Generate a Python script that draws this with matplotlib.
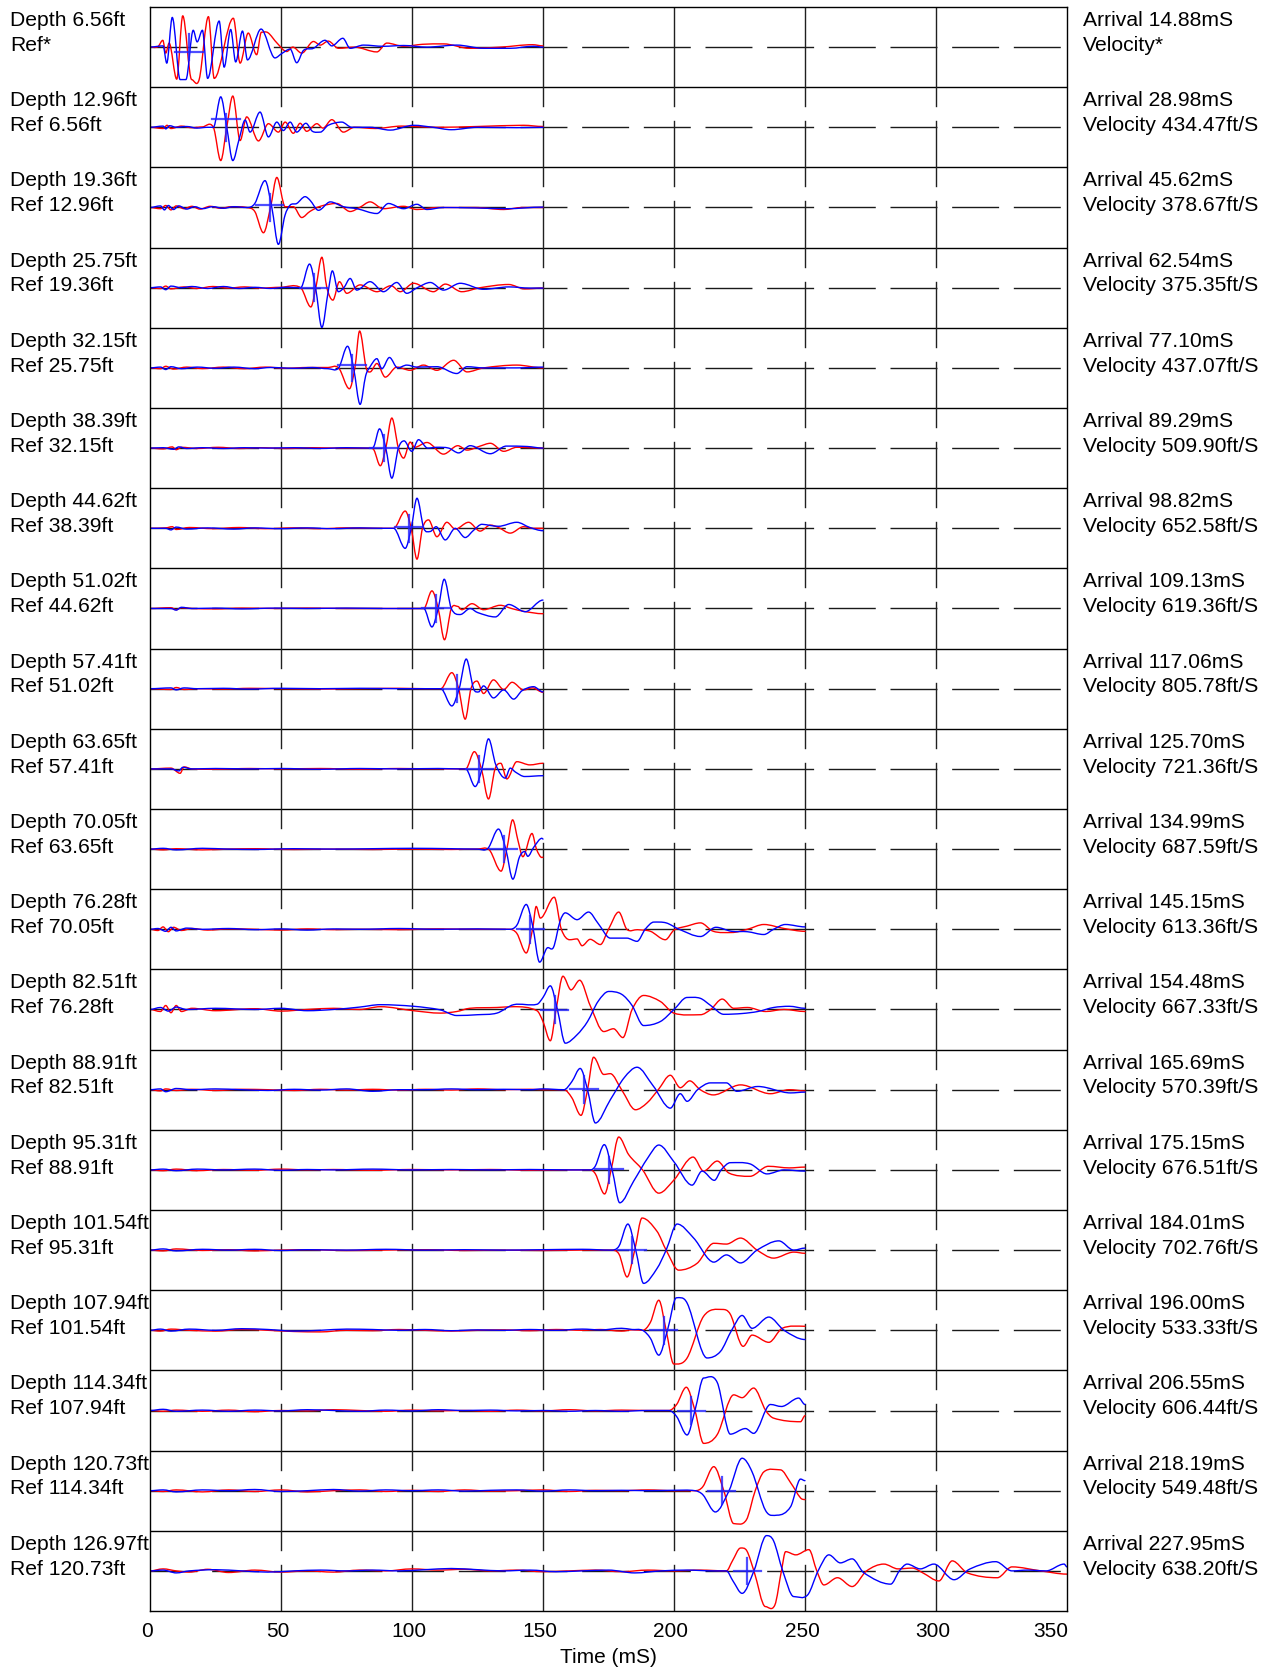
import matplotlib
matplotlib.use("Agg")
import matplotlib.pyplot as plt
import matplotlib.transforms as mtransforms
from matplotlib.path import Path
from matplotlib.patches import PathPatch

plt.rcParams['font.family'] = ['Liberation Sans', 'DejaVu Sans']

# ---------------- data ----------------
depths = ["6.56", "12.96", "19.36", "25.75", "32.15", "38.39", "44.62", "51.02", "57.41", "63.65",
          "70.05", "76.28", "82.51", "88.91", "95.31", "101.54", "107.94", "114.34", "120.73", "126.97"]
arrivals = [14.88, 28.98, 45.62, 62.54, 77.10, 89.29, 98.82, 109.13, 117.06, 125.70,
            134.99, 145.15, 154.48, 165.69, 175.15, 184.01, 196.00, 206.55, 218.19, 227.95]
velocities = [None, "434.47", "378.67", "375.35", "437.07", "509.90", "652.58", "619.36", "805.78", "721.36",
              "687.59", "613.36", "667.33", "570.39", "676.51", "702.76", "533.33", "606.44", "549.48", "638.20"]
trace_end = [150] * 11 + [250] * 8 + [350]
marker_level = [-0.13, 0.2, 0.07, 0.0, 0.06, 0.0, 0.02, 0.0, 0.0, 0.0,
                0.0, 0.0, -0.02, 0.01, 0.01, 0.0, 0.0, 0.0, 0.0, 0.0]
time_ticks = [0, 50, 100, 150, 200, 250, 300, 350]

# (time ms, amplitude as fraction of half a row)
blue_01 = [(0,0),(3,0.02),(5,0.03),(6.4,-0.4),(8.5,0.74),(11.5,-0.81),(13.7,-0.81),(16.5,0.42),(18.0,0.13),(20.0,0.42),(22.0,-0.78),(26.4,0.65),(28.3,-0.5),(30.8,0.44),(32.7,-0.37),(35.3,0.4),(37.2,-0.32),(42.4,0.45),(47.7,-0.27),(50.3,-0.16),(53.5,-0.05),(56.0,-0.39),(58.6,-0.08),(62.4,-0.03),(66.8,0.17),(69.4,0.03),(73.6,0.22),(76.4,-0.03),(81.5,0.05),(89,0.02),(96.8,0.04),(105.7,0.0),(117.1,0.05),(127.3,-0.03),(137.5,-0.03),(146.4,0.02),(150,0.0)]
red_01 = [(0,0),(3,0.01),(4.9,0.17),(6.0,-0.15),(7.3,0.1),(10.2,-0.8),(12.5,0.78),(15.9,-0.81),(18.8,-0.8),(22.3,0.76),(24.5,-0.78),(31.8,0.72),(34.4,-0.4),(37.5,0.35),(40.7,-0.19),(42.5,0.37),(45,0.36),(48.5,0.1),(52.2,-0.11),(54.5,0.0),(57.9,-0.15),(62.4,0.14),(65,0.05),(68,0.15),(72,-0.03),(78,0.0),(86.6,-0.12),(90.4,0.1),(96.8,0.02),(104,0.07),(112,0.08),(122,-0.03),(134,0.0),(146,0.06),(150,0.03)]

blue_02 = [(0,0),(5,0.03),(6,-0.04),(7.5,0.04),(10,0.0),(14,0.02),(18,-0.02),(22,0.0),(24.2,0.0),(27.0,0.76),(29.3,0.0),(31.6,-0.83),(34,-0.3),(36.3,0.18),(38.2,-0.12),(42.0,0.38),(45.2,-0.24),(48.4,0.13),(50.9,-0.08),(53.5,0.13),(56,-0.12),(59.5,0.1),(62,-0.1),(65,-0.12),(68,0.05),(73.2,0.13),(77,0.0),(84,0.0),(91.7,-0.07),(100.6,0.05),(108,0.0),(115,-0.06),(125,0.0),(140,-0.01),(150,0.0)]
red_02 = [(0,0),(5,-0.03),(6.5,0.05),(8,-0.03),(12,0.03),(16,-0.01),(20,0.01),(24.2,0.0),(27.0,-0.83),(29.3,0.0),(31.6,0.78),(34.4,-0.33),(36.9,0.26),(41.4,-0.34),(45.2,0.09),(49,-0.12),(51.6,0.13),(54.7,-0.15),(57.3,0.1),(59.8,-0.1),(63.7,0.09),(66,-0.02),(69.4,0.19),(73.8,-0.12),(78,0.0),(86,-0.03),(96,0.03),(110,0.0),(125,0.02),(142.6,0.05),(150,0.02)]

blue_03 = [(0,0),(4,0.04),(5.5,-0.06),(7,0.05),(9,-0.05),(11,0.04),(14,-0.04),(17,0.02),(20,-0.03),(24,0.02),(28,-0.02),(32,0.02),(36.9,0.0),(40,0.1),(43.9,0.67),(46.5,0.0),(49.0,-0.92),(51.5,-0.2),(53.5,0.06),(56,0.1),(59.2,0.27),(61.1,0.18),(64.3,-0.07),(68.8,0.14),(73.8,0.02),(79,-0.03),(86.6,-0.15),(91,0.1),(96.8,-0.03),(101.9,0.08),(105.7,-0.05),(112,0.0),(124,-0.01),(136,-0.03),(150,0.01)]
red_03 = [(0,0),(4,-0.03),(6,0.05),(8,-0.06),(10,0.04),(13,-0.03),(16,0.03),(19,-0.04),(23,0.03),(27,-0.02),(31,0.02),(36.9,0.0),(40,-0.1),(43.3,-0.63),(46,0.0),(48.4,0.75),(51.6,0.02),(54.7,0.02),(57.9,-0.25),(61,-0.1),(65,0.03),(71.3,0.1),(76.4,-0.1),(80,0.0),(84,0.14),(89,-0.03),(96.8,0.03),(101.9,-0.05),(110,0.0),(124,0.0),(135,-0.05),(142,0.0),(150,0.0)]

blue_04 = [(0,0),(4,0.02),(6,-0.05),(8,0.04),(12,0.0),(16,0.03),(22,-0.02),(28,0.03),(34,-0.02),(40,0.01),(46,-0.02),(52,0.01),(57.5,0.0),(60.9,0.59),(63.2,0.0),(65.6,-0.99),(68,-0.1),(69.6,0.42),(71.9,-0.1),(74,0.0),(76.4,0.23),(78.9,-0.06),(84,0.15),(89.1,-0.1),(94.2,0.13),(98,-0.14),(102,0.0),(107,0.13),(112,-0.06),(118.4,0.11),(127.3,-0.04),(137,0.02),(145,-0.01),(150,-0.01)]
red_04 = [(0,0),(4,-0.02),(6,0.04),(8,-0.03),(13,0.02),(18,-0.02),(24,0.03),(30,-0.01),(36,0.02),(42,-0.01),(50,0.01),(57.5,0.0),(61.4,-0.48),(63.3,0.0),(65.6,0.76),(67.5,0.0),(69.8,-0.31),(72.3,0.15),(75.1,-0.14),(80.2,0.07),(86.6,-0.1),(92,0.05),(95.5,-0.1),(100.6,0.11),(108.2,-0.1),(112.7,0.09),(119,-0.1),(126,0.0),(136.9,0.08),(143,-0.03),(150,-0.01)]

blue_05 = [(0,0),(4,0.02),(6,-0.04),(8,0.03),(12,-0.02),(18,0.02),(25,-0.01),(32,0.02),(40,-0.02),(46,0.01),(55,-0.01),(62,0.01),(68,-0.02),(72,0.0),(75.4,0.54),(77.7,0.0),(80.2,-0.91),(82.3,-0.2),(84,0.03),(86.6,0.23),(88.5,-0.02),(91.4,0.26),(94.5,0.0),(98,0.07),(101.9,0.02),(109.5,0.03),(117.1,-0.14),(121,0.03),(127.3,0.0),(140,0.0),(150,0.02)]
red_05 = [(0,0),(4,-0.02),(6,0.04),(9,-0.03),(14,0.02),(20,-0.02),(28,0.02),(36,-0.02),(44,0.02),(52,-0.01),(60,0.01),(68,0.01),(72,0.0),(76.1,-0.52),(78.2,0.0),(80.0,0.92),(82.5,0.0),(84,-0.1),(86.6,0.11),(89.8,-0.23),(94.2,0.02),(99.3,-0.06),(104.4,0.07),(109.5,-0.06),(115.9,0.19),(121,-0.1),(127.3,0.0),(140,0.07),(150,0.0)]

blue_06 = [(0,0),(5,0.01),(9,-0.03),(11,0.03),(14,-0.01),(20,0.01),(28,-0.01),(36,0.01),(45,0.0),(55,0.01),(65,-0.01),(75,0.01),(84,0.0),(85.5,0.05),(87.6,0.48),(90,0.0),(92.3,-0.75),(94.8,0.0),(97,0.18),(99.9,-0.08),(102.5,0.21),(106,0.0),(109.5,0.02),(114,0.0),(117.8,-0.12),(122.2,0.06),(129.9,-0.14),(136,0.05),(144,0.04),(150,0.0)]
red_06 = [(0,0),(5,-0.02),(8.5,0.03),(10,-0.04),(12,0.02),(18,-0.01),(26,0.02),(34,-0.01),(42,0.01),(52,-0.01),(62,0.01),(72,0.0),(84,0.0),(85.5,-0.05),(87.9,-0.44),(90,0.0),(92.3,0.75),(94.8,0.0),(96.8,-0.25),(99.3,0.15),(101,0.02),(105.7,0.14),(112,-0.15),(117.5,0.06),(121,-0.05),(126,0.05),(129.9,0.12),(135,-0.08),(140,0.02),(150,0.0)]

blue_07 = [(0,0),(6,0.0),(8,-0.04),(10,0.03),(14,-0.02),(22,0.01),(32,-0.02),(40,0.01),(50,-0.01),(60,0.01),(70,-0.01),(80,0.01),(88,0.0),(93,0.0),(97.4,-0.5),(99.7,0.0),(101.9,0.75),(104.5,0.0),(106.9,-0.08),(109.2,0.04),(112.7,-0.29),(116.5,0.0),(120.3,-0.23),(123.5,-0.05),(126.7,0.1),(129.9,0.07),(133,0.05),(140,0.15),(145,0.02),(150,-0.06)]
red_07 = [(0,0),(6,0.01),(8.5,0.04),(10,-0.03),(15,0.02),(24,-0.01),(34,0.02),(44,-0.01),(55,0.01),(65,-0.01),(75,0.01),(85,0.0),(93,0.0),(97.4,0.43),(99.7,0.0),(101.9,-0.77),(104,0.0),(106.3,0.21),(109.5,-0.21),(113.3,0.15),(116.5,-0.02),(121.6,0.15),(126,-0.07),(129.9,0.08),(133,0.02),(137.5,-0.12),(142.6,0.04),(146,0.0),(150,0.0)]

blue_08 = [(0,0),(8,0.0),(10,-0.04),(12,0.03),(16,0.0),(25,0.01),(35,-0.01),(48,0.01),(60,0.0),(75,0.01),(90,0.0),(100,0.0),(104.5,0.0),(107.6,-0.46),(110,0.0),(112.3,0.73),(115,0.0),(118.4,-0.15),(122.2,0.0),(125,-0.1),(131.8,-0.21),(136.9,0.1),(143.2,-0.08),(150,0.21)]
red_08 = [(0,0),(8,0.02),(10,-0.03),(12,0.02),(16,0.0),(25,-0.01),(35,0.01),(48,0.0),(60,0.01),(75,0.0),(90,0.0),(104.5,0.0),(107.6,0.44),(110,0.0),(112.4,-0.78),(115,0.0),(117.5,0.05),(119,-0.03),(122.9,0.12),(127.3,-0.03),(133.7,0.08),(138,0.0),(142.6,-0.07),(150,-0.13)]

blue_09 = [(0,0),(8,0.02),(10,-0.03),(13,0.02),(18,0.0),(28,0.01),(38,-0.01),(50,0.01),(65,0.0),(80,0.01),(95,0.0),(105,0.0),(111,0.0),(115.2,-0.43),(118,0.0),(120.7,0.74),(123.5,0.0),(125.4,-0.08),(127.3,0.07),(131.1,-0.23),(135,-0.03),(138.8,-0.26),(142,-0.05),(146.4,0.05),(150,-0.08)]
red_09 = [(0,0),(8,-0.02),(10,0.03),(13,-0.02),(18,0.0),(28,-0.01),(38,0.01),(50,0.0),(65,-0.01),(80,0.0),(95,0.01),(105,0.0),(111,0.0),(115.2,0.4),(117.8,0.0),(120.3,-0.76),(122.5,0.0),(124.8,0.19),(127.3,-0.12),(131.1,0.22),(135,-0.02),(138.2,0.16),(142.6,-0.03),(146,0.02),(150,-0.09)]

blue_10 = [(0,0),(8,0.0),(11,-0.05),(12.5,0.04),(16,0.0),(25,0.01),(38,0.0),(50,0.01),(65,-0.01),(80,0.01),(95,0.0),(110,0.01),(118,0.0),(120.5,0.0),(124.1,-0.44),(126.7,0.0),(129.2,0.75),(132,0.1),(135.6,-0.23),(137.5,0.02),(139.5,-0.08),(143,-0.19),(150,-0.17)]
red_10 = [(0,0),(8,0.02),(11.5,-0.11),(13,0.05),(16,0.0),(25,-0.01),(38,0.01),(50,0.0),(65,0.01),(80,-0.01),(95,0.01),(110,0.0),(118,0.0),(120.5,0.0),(123.8,0.43),(126.5,0.0),(129.2,-0.75),(131.7,0.0),(133.9,0.14),(136.2,-0.25),(140,0.18),(145,0.1),(150,0.14)]

blue_11 = [(0,0),(5,0.02),(10,-0.02),(20,0.02),(30,0.0),(40,-0.01),(55,0.01),(70,0.0),(85,0.01),(100,0.02),(115,0.01),(125,0.0),(129,0.02),(133,0.5),(135.8,0.0),(138.5,-0.75),(141,-0.2),(143,-0.06),(144.2,-0.18),(146.5,0.05),(149.6,0.27),(150,0.25)]
red_11 = [(0,0),(5,-0.02),(10,0.01),(20,-0.02),(30,0.0),(40,0.01),(55,-0.01),(70,0.0),(85,-0.01),(100,0.0),(115,-0.01),(125,0.0),(129.5,-0.02),(134,-0.55),(136.2,0.0),(138.4,0.73),(140.5,0.2),(142.3,-0.19),(145.8,0.39),(147.5,0.0),(149.6,-0.21),(150,-0.2)]

blue_12 = [(0,0),(3,0.02),(6,-0.05),(8,0.05),(10,-0.04),(14,0.03),(20,0.0),(30,0.02),(40,-0.01),(50,0.01),(60,-0.02),(70,0.01),(80,0.0),(95,0.02),(110,0.0),(125,0.01),(137,0.0),(140,0.1),(143.6,0.62),(146,0.1),(148.7,-0.82),(151.5,-0.47),(154,-0.45),(156.5,0.2),(158.5,0.41),(163,0.24),(167.4,0.43),(171,0.15),(175.7,-0.22),(182,-0.22),(185.9,-0.3),(189,0.0),(192.3,0.18),(197,0.16),(202,0.0),(210.1,-0.18),(216,0.05),(222,-0.05),(228,-0.06),(234.3,-0.13),(238,0.0),(242.5,0.12),(250,0.06)]
red_12 = [(0,0),(3,-0.03),(5,0.06),(7,-0.06),(9,0.05),(12,-0.03),(16,0.02),(22,-0.02),(30,0.01),(40,0.0),(50,-0.02),(60,0.01),(70,-0.01),(80,0.0),(95,-0.01),(110,0.01),(125,0.0),(137,0.0),(140,-0.1),(143.6,-0.59),(146,0.0),(147.4,0.57),(149,0.28),(154.3,0.8),(157,0.0),(160.2,-0.26),(163,-0.24),(164.9,-0.41),(168,-0.25),(171.9,-0.38),(175,0.0),(178.9,0.43),(182,0.0),(186,-0.01),(191,-0.05),(196.7,-0.26),(200,-0.02),(205,0.08),(210.1,0.16),(215,-0.05),(222,-0.08),(228,0.0),(234.3,0.12),(242,0.02),(250,-0.05)]

blue_13 = [(0,0),(4,0.05),(7,-0.04),(10,0.06),(14,0.0),(25,0.03),(40,0.0),(50,0.03),(60,-0.03),(70,0.0),(80,0.06),(87.9,0.12),(100.6,0.08),(110.8,-0.01),(117.1,-0.15),(125,-0.13),(132.4,-0.09),(138.8,0.12),(147.7,0.13),(150,0.3),(152.8,0.59),(155.5,0.0),(158.5,-0.84),(163,-0.63),(167,-0.3),(171,0.2),(175.1,0.45),(180,0.38),(184,0.1),(188.4,-0.4),(194.8,-0.3),(200,0.0),(205,0.3),(210,0.28),(214,0.1),(219,-0.12),(226,-0.1),(232,-0.05),(238,0.05),(244,0.08),(250,0.03)]
red_13 = [(0,0),(4,-0.05),(6,0.1),(8,-0.08),(10,0.1),(12,-0.05),(16,0.03),(25,-0.03),(40,0.02),(50,-0.04),(60,0.0),(70,0.03),(80,0.0),(87.9,0.07),(100.6,-0.03),(110.8,-0.09),(117.1,-0.05),(122,0.03),(132.4,0.05),(138.8,0.07),(147.7,-0.03),(150,-0.3),(152.8,-0.78),(155,0.0),(157.6,0.83),(160.7,0.49),(164,0.73),(168,0.1),(173.2,-0.55),(176.9,-0.48),(180.5,-0.7),(184,0.0),(188.4,0.35),(194.8,0.2),(199.9,-0.09),(210.1,-0.13),(214,0.0),(218.4,0.26),(222.8,0.03),(228,0.05),(235,-0.05),(242,0.0),(250,-0.05)]

blue_14 = [(0,0),(4,0.02),(6,-0.05),(10,0.03),(16,0.0),(25,0.02),(35,0.0),(45,-0.02),(55,0.01),(65,-0.01),(75,0.02),(85,-0.04),(95,0.0),(105,0.0),(115,0.02),(125,0.0),(135,0.01),(145,0.0),(150,0.02),(158,0.0),(161,0.2),(164.2,0.53),(167,0.0),(170,-0.83),(175.7,-0.25),(181,0.3),(185.9,0.56),(192,0.1),(198.6,-0.46),(202.4,-0.1),(205,-0.29),(209,0.0),(213.9,0.17),(220,0.17),(224,-0.04),(232,0.08),(244.5,-0.08),(250,-0.06)]
red_14 = [(0,0),(4,-0.03),(6,0.02),(10,-0.02),(16,0.01),(25,-0.02),(35,0.01),(45,0.0),(55,-0.02),(65,0.01),(75,-0.01),(85,0.01),(95,-0.01),(105,0.01),(115,-0.01),(125,0.02),(135,0.0),(145,0.01),(150,0.0),(158,0.0),(161,-0.2),(164.5,-0.64),(167,0.0),(169.3,0.81),(173.2,0.38),(175.7,0.4),(180,0.0),(185.3,-0.5),(189.7,-0.33),(194,0.0),(198.6,0.36),(202.4,0.05),(206,0.22),(210,0.0),(215,-0.13),(225.4,0.12),(236.8,-0.1),(244,0.0),(250,-0.03)]

blue_15 = [(0,0),(5,0.02),(10,-0.02),(18,0.02),(28,0.0),(40,0.02),(50,-0.01),(60,0.01),(70,0.0),(85,0.02),(100,0.0),(115,0.01),(130,0.0),(145,0.01),(160,0.0),(168,0.0),(170,0.1),(173.4,0.63),(176.4,0.0),(179.3,-0.82),(184.6,-0.28),(190,0.3),(194.2,0.62),(200,0.2),(206.9,-0.38),(210.7,-0.03),(215.4,-0.26),(218,0.0),(221.5,0.18),(229,0.15),(235.5,-0.1),(242,0.0),(250,-0.03)]
red_15 = [(0,0),(5,-0.02),(10,0.02),(18,-0.02),(28,0.01),(40,-0.01),(50,0.02),(60,0.0),(70,0.01),(85,-0.01),(100,0.01),(115,0.0),(130,0.01),(145,-0.01),(160,0.0),(168,0.0),(170,-0.1),(173.5,-0.6),(176,0.0),(178.9,0.82),(182.7,0.38),(188,0.0),(194.2,-0.58),(200,-0.25),(207.3,0.32),(211.3,-0.03),(216.5,0.22),(221,-0.08),(229,-0.16),(236,0.09),(244,0.05),(250,0.07)]

blue_16 = [(0,0),(5,0.03),(10,-0.02),(20,0.02),(30,0.0),(40,0.02),(50,-0.01),(60,0.01),(75,0.0),(90,0.02),(105,0.0),(120,0.01),(135,0.0),(150,0.01),(165,0.02),(176,0.0),(179,0.1),(182.4,0.65),(185.4,0.0),(188.4,-0.83),(193.5,-0.46),(197,0.0),(201.2,0.65),(207.5,0.3),(215.2,-0.3),(220,-0.12),(225.4,-0.32),(231.7,0.0),(240,0.23),(245.7,0.0),(250,0.05)]
red_16 = [(0,0),(5,-0.02),(10,0.03),(20,-0.01),(30,0.01),(40,-0.02),(50,0.0),(60,0.01),(75,-0.01),(90,0.0),(105,0.01),(120,-0.01),(135,0.0),(150,-0.01),(165,0.0),(176,0.0),(179,-0.1),(182.1,-0.67),(185,0.0),(187.8,0.8),(193.5,0.47),(197,0.0),(201.8,-0.5),(208.8,-0.33),(215.2,0.17),(220,0.15),(225.4,0.3),(231.7,0.0),(238,-0.2),(245.7,-0.05),(250,-0.08)]

blue_17 = [(0,0),(4,0.03),(8,-0.02),(15,0.03),(25,0.0),(35,0.04),(45,0.02),(55,-0.02),(65,0.0),(75,0.03),(85,0.02),(95,0.0),(105,0.02),(115,-0.01),(125,0.01),(135,0.0),(145,0.02),(155,0.0),(165,0.03),(172,0.01),(180,0.05),(184,0.02),(188,0.0),(191,-0.2),(194.2,-0.62),(197.5,0.0),(200.9,0.81),(205,0.68),(212.6,-0.69),(217.7,-0.53),(222,0.0),(226,0.37),(229.8,0.05),(236.2,0.33),(242,0.0),(250,-0.23)]
red_17 = [(0,0),(4,-0.02),(8,0.03),(15,0.0),(25,-0.02),(35,0.02),(45,0.0),(55,-0.03),(65,-0.04),(75,0.0),(85,-0.01),(95,0.02),(105,0.0),(115,-0.02),(125,0.0),(135,0.01),(145,-0.01),(155,0.02),(165,0.0),(172,0.02),(180,-0.02),(184,0.01),(188,0.0),(191,0.2),(194.2,0.75),(197,0.0),(199.9,-0.84),(205,-0.69),(211.3,0.35),(218.4,0.52),(221.5,0.4),(226.4,-0.4),(229.8,-0.12),(236.2,-0.3),(241.3,0.05),(250,0.1)]

blue_18 = [(0,0),(5,0.03),(10,-0.02),(20,0.01),(30,-0.02),(40,0.01),(50,-0.01),(60,0.02),(70,0.0),(80,-0.02),(90,0.01),(100,-0.01),(110,0.02),(120,0.0),(130,0.01),(140,-0.01),(150,0.0),(160,-0.02),(170,0.0),(180,-0.02),(190,0.0),(198,0.0),(201,-0.15),(205,-0.61),(208,0.0),(211.3,0.81),(216.5,0.7),(221.5,-0.59),(227.3,-0.45),(230.4,-0.57),(236.8,0.15),(241,0.1),(247.6,0.31),(250,0.15)]
red_18 = [(0,0),(5,-0.02),(10,0.01),(20,-0.02),(30,0.01),(40,-0.03),(50,0.0),(60,-0.01),(70,0.02),(80,0.0),(90,-0.02),(100,0.01),(110,-0.01),(120,0.0),(130,-0.02),(140,0.01),(150,-0.01),(160,0.02),(170,-0.01),(180,0.01),(190,0.0),(198,0.0),(201,0.15),(204.7,0.58),(208,0.0),(211.3,-0.82),(216.5,-0.6),(222.8,0.39),(226,0.32),(230.4,0.56),(235,0.0),(238,-0.19),(248.3,-0.28),(250,-0.13)]

blue_19 = [(0,0),(5,0.02),(10,-0.03),(20,0.02),(30,0.0),(40,0.03),(50,-0.02),(60,0.0),(70,0.03),(80,-0.01),(90,0.02),(100,0.0),(110,0.02),(120,-0.01),(130,0.01),(140,0.02),(150,-0.01),(160,0.02),(170,0.0),(180,0.01),(190,0.0),(200,0.01),(208,0.0),(211,-0.1),(215.8,-0.53),(221,0.0),(226,0.81),(229.8,0.47),(235,-0.5),(239.4,-0.61),(244.5,-0.4),(248.3,0.29),(250,0.25)]
red_19 = [(0,0),(5,-0.02),(10,0.02),(20,-0.03),(30,0.02),(40,-0.02),(50,0.02),(60,-0.03),(70,0.0),(80,0.02),(90,-0.02),(100,0.01),(110,-0.02),(120,0.02),(130,-0.01),(140,0.0),(150,0.02),(160,-0.02),(170,0.01),(180,0.0),(190,0.02),(200,0.0),(208,0.0),(211,0.1),(215.2,0.6),(219,0.0),(222.8,-0.82),(227.6,-0.73),(231,0.0),(234.3,0.47),(240.6,0.52),(244.5,0.2),(248.3,-0.18),(250,-0.22)]

blue_20 = [(0,0),(5,0.02),(10,-0.05),(15,0.0),(25,0.03),(35,0.0),(45,-0.03),(55,0.0),(65,0.02),(75,0.0),(85,0.02),(95,0.0),(105,0.03),(115,0.06),(125,0.03),(135,0.0),(145,0.02),(155,-0.02),(165,0.0),(175,0.02),(185,-0.05),(195,0.0),(205,0.02),(215,0.0),(220,0.0),(222.5,-0.25),(226,-0.56),(230.5,0.0),(235.3,0.88),(238,0.75),(241.5,0.0),(245.7,-0.64),(251,-0.6),(255,0.0),(259.1,0.4),(263.5,0.2),(268,0.3),(272.5,-0.05),(282.7,-0.33),(286,0.0),(289,0.17),(294,0.05),(299.2,0.17),(306.9,-0.22),(313,0.05),(322.8,0.23),(329,0.0),(335,0.02),(342,0.0),(348.9,0.17),(350,0.1)]
red_20 = [(0,0),(5,0.05),(10,0.0),(15,-0.03),(22,0.04),(30,-0.04),(40,0.02),(50,-0.03),(60,0.0),(70,-0.03),(80,0.02),(90,0.0),(100,0.05),(110,0.02),(120,0.04),(130,0.0),(140,0.02),(150,-0.02),(160,0.0),(170,0.02),(180,-0.02),(190,0.02),(200,0.0),(210,0.02),(220,0.0),(222.3,0.25),(225.4,0.57),(227.8,0.5),(230.5,0.0),(234.9,-0.89),(238.5,-0.85),(241,0.0),(242.6,0.48),(246.5,0.4),(251.5,0.53),(254.5,0.0),(257.2,-0.35),(262.4,-0.17),(268,-0.39),(273.5,0.0),(280.1,0.17),(285.5,0.05),(291,0.07),(295,-0.05),(301.1,-0.25),(306.2,0.25),(312,-0.05),(323.4,-0.17),(329,0.1),(340,0.0),(350,-0.08)]

blue_traces = [blue_01, blue_02, blue_03, blue_04, blue_05, blue_06, blue_07, blue_08, blue_09, blue_10,
               blue_11, blue_12, blue_13, blue_14, blue_15, blue_16, blue_17, blue_18, blue_19, blue_20]
red_traces = [red_01, red_02, red_03, red_04, red_05, red_06, red_07, red_08, red_09, red_10,
              red_11, red_12, red_13, red_14, red_15, red_16, red_17, red_18, red_19, red_20]


def smooth_trace(ax, ts, ys, color, z):
    """Draw the read points as a smooth curve (cubic Bezier segments, flat at peaks)."""
    m = len(ts)
    slopes = []
    for k in range(m):
        if k == 0 or k == m - 1:
            slopes.append(0.0)
            continue
        d0 = ys[k] - ys[k - 1]
        d1 = ys[k + 1] - ys[k]
        if d0 * d1 <= 0:
            slopes.append(0.0)
        else:
            slopes.append((ys[k + 1] - ys[k - 1]) / (ts[k + 1] - ts[k - 1]))
    verts = [(ts[0], ys[0])]
    codes = [Path.MOVETO]
    for k in range(m - 1):
        dt = ts[k + 1] - ts[k]
        verts += [(ts[k] + dt / 3, ys[k] + slopes[k] * dt / 3),
                  (ts[k + 1] - dt / 3, ys[k + 1] - slopes[k + 1] * dt / 3),
                  (ts[k + 1], ys[k + 1])]
        codes += [Path.CURVE4] * 3
    ax.add_patch(PathPatch(Path(verts, codes), fill=False, edgecolor=color, lw=1.0, zorder=z,
                           joinstyle='round', capstyle='round'))


# ---------------- figure ----------------
W, H = 1273, 1669
fig = plt.figure(figsize=(W / 100, H / 100), dpi=100)
ax_left, ax_right, ax_top, ax_bottom = 150, 1067, 7, 1611
ax = fig.add_axes([ax_left / W, (H - ax_bottom) / H, (ax_right - ax_left) / W, (ax_bottom - ax_top) / H])
n = len(depths)
ax.set_xlim(0, 350)
ax.set_ylim(0, n)
ax.set_yticks([])
for s in ax.spines.values():
    s.set_color('black')
    s.set_linewidth(1.0)
    s.set_zorder(6)

row_h_px = (ax_bottom - ax_top) / n
half = 0.5  # half row in data units

for i in range(n):
    top = n - i
    c = top - 0.5
    if i > 0:
        ax.plot([0, 350], [top, top], color='black', lw=1.0, zorder=2)
    ax.plot([0, 350], [c, c], color='#1a1a1a', lw=1.0, ls=(0, (33.8, 10.6)), zorder=1)
    rt = [p[0] for p in red_traces[i]]
    ry = [c + half * p[1] for p in red_traces[i]]
    bt = [p[0] for p in blue_traces[i]]
    by = [c + half * p[1] for p in blue_traces[i]]
    smooth_trace(ax, rt, ry, '#ff0000', 3)
    smooth_trace(ax, bt, by, '#0000ff', 4)
    t0 = arrivals[i]
    ym = c + half * marker_level[i]
    ax.plot([t0 - 5.2, t0 + 5.2], [ym, ym], color='#2020ff', lw=1.6, alpha=0.8, zorder=5)
    ax.plot([t0, t0], [c - 0.165, c + 0.165], color='#2020ff', lw=1.6, alpha=0.8, zorder=5)

# vertical grid lines, broken just above each row centre
for xv in time_ticks[1:-1]:
    for i in range(n):
        top = n - i
        y_start = top - 0.425 if i > 0 else top
        y_end = max(top - 1 - 0.2375, 0)
        ax.plot([xv, xv], [y_start, y_end], color='#202020', lw=1.0, zorder=2)

# ticks
ax.set_xticks(time_ticks)
ax.set_xticklabels([str(v) for v in time_ticks])
ax.tick_params(axis='x', length=0, pad=8, labelsize=15)
shift = mtransforms.ScaledTranslation(-3 / 100, 0, fig.dpi_scale_trans)
labels = ax.get_xticklabels()
for k, lab in enumerate(labels):
    if k == len(labels) - 1:
        lab.set_horizontalalignment('right')
        lab.set_transform(lab.get_transform() + mtransforms.ScaledTranslation(1 / 100, 0, fig.dpi_scale_trans))
    else:
        lab.set_transform(lab.get_transform() + shift)

fig.text((ax_left + ax_right) / 2 / W, 1 - 1657 / H, "Time (mS)", ha='center', va='center', fontsize=15)

# row labels
for i in range(n):
    top_px = ax_top + row_h_px * i
    y1 = 1 - (top_px + 19) / H
    y2 = 1 - (top_px + 43.7) / H
    ref = "Ref*" if i == 0 else "Ref " + depths[i - 1] + "ft"
    fig.text(10 / W, y1, "Depth " + depths[i] + "ft", fontsize=15.2, va='baseline', ha='left')
    fig.text(10 / W, y2, ref, fontsize=15.2, va='baseline', ha='left')
    fig.text(1083 / W, y1, "Arrival %.2fmS" % arrivals[i], fontsize=15.2, va='baseline', ha='left')
    vel = "Velocity*" if velocities[i] is None else "Velocity " + velocities[i] + "ft/S"
    fig.text(1083 / W, y2, vel, fontsize=15.2, va='baseline', ha='left')

fig.savefig("out.png", dpi=100)
